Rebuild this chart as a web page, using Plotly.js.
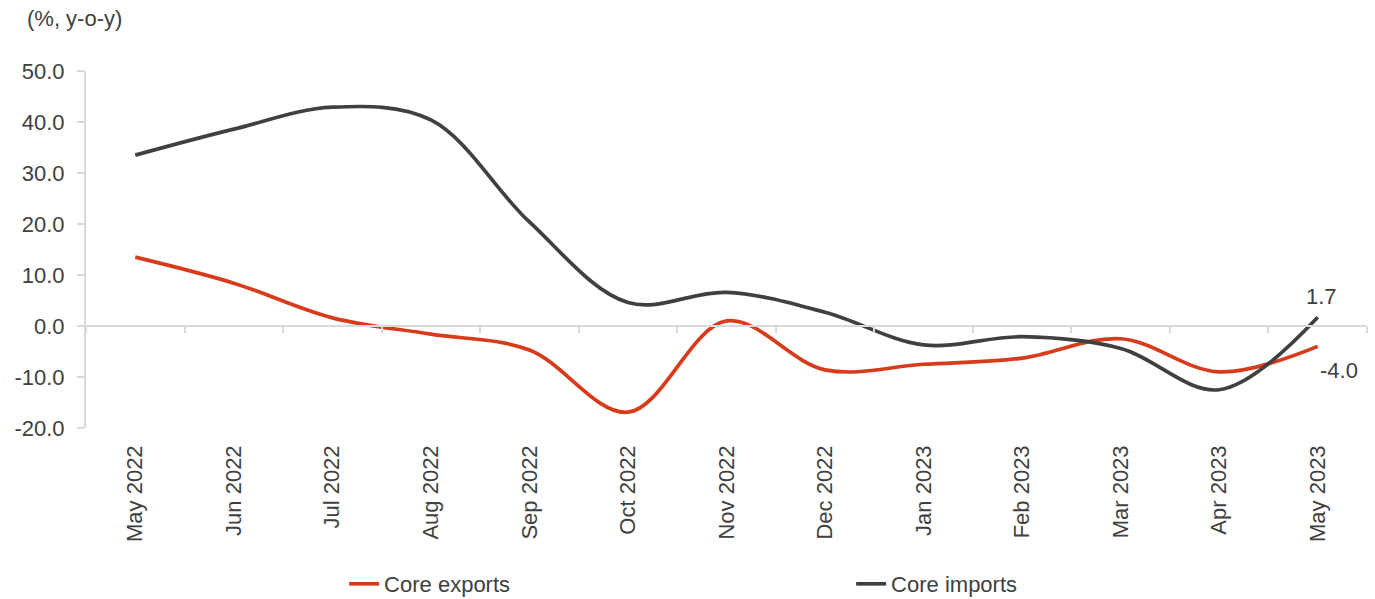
<!DOCTYPE html>
<html>
<head>
<meta charset="utf-8">
<script src="https://cdn.plot.ly/plotly-3.0.1.min.js"></script>
<style>html,body{margin:0;padding:0;background:#fff;}#chart{width:1375px;height:599px;}</style>
</head>
<body>
<div id="chart"></div>
<script>
const categories = ["May 2022","Jun 2022","Jul 2022","Aug 2022","Sep 2022","Oct 2022","Nov 2022","Dec 2022","Jan 2023","Feb 2023","Mar 2023","Apr 2023","May 2023"];
const coreExports = [13.5, 8.4, 1.6, -1.6, -4.7, -16.9, 1.0, -8.6, -7.5, -6.3, -2.5, -9.0, -4.0];
const coreImports = [33.5, 38.6, 42.9, 40.4, 20.4, 4.6, 6.6, 2.7, -3.7, -2.1, -4.4, -12.5, 1.7];
const yTicks = [-20, -10, 0, 10, 20, 30, 40, 50];
const seriesNames = ["Core exports", "Core imports"];
const lastIdx = categories.length - 1;

const fontFam = '"Liberation Sans", Arial, sans-serif';
const textColor = '#404040';
const gridGray = '#d9d9d9';
const fs = 22;

const traces = [
  {
    x: categories, y: coreExports, name: seriesNames[0], type: 'scatter', mode: 'lines',
    line: {color: '#d83b1a', width: 3.7, shape: 'spline', smoothing: 1},
    hoverinfo: 'x+y'
  },
  {
    x: categories, y: coreImports, name: seriesNames[1], type: 'scatter', mode: 'lines',
    line: {color: '#404040', width: 3.7, shape: 'spline', smoothing: 1},
    hoverinfo: 'x+y'
  },
  {
    x: categories, y: categories.map(() => null), xaxis: 'x2', yaxis: 'y',
    type: 'scatter', mode: 'lines', showlegend: false, hoverinfo: 'skip'
  }
];

const layout = {
  width: 1375, height: 599,
  margin: {l: 86, r: 8, t: 71, b: 171, autoexpand: false},
  paper_bgcolor: '#fff', plot_bgcolor: '#fff',
  font: {family: fontFam, color: textColor, size: fs},
  showlegend: true,
  legend: {
    orientation: 'h', x: 0.2015, xanchor: 'left', y: -0.437, yanchor: 'middle',
    font: {size: fs, color: textColor, family: fontFam},
    entrywidth: 462, entrywidthmode: 'pixels', bgcolor: 'rgba(0,0,0,0)'
  },
  xaxis: {
    type: 'category', categoryorder: 'array', categoryarray: categories,
    range: [-0.5, lastIdx + 0.5], automargin: false,
    showline: false, ticks: '', showgrid: false, zeroline: false,
    tickangle: -90, tickfont: {size: fs, color: textColor, family: fontFam},
    ticklabelstandoff: 12, fixedrange: true
  },
  xaxis2: {
    type: 'category', categoryorder: 'array', categoryarray: categories,
    range: [-0.5, lastIdx + 0.5], automargin: false,
    overlaying: 'x', anchor: 'free', position: 20 / 70, side: 'bottom',
    showline: true, linecolor: gridGray, linewidth: 2,
    ticks: 'outside', tickson: 'boundaries', ticklen: 6, tickcolor: gridGray, tickwidth: 2,
    showticklabels: false, showgrid: false, zeroline: false, fixedrange: true
  },
  yaxis: {
    range: [-20, 50], tickmode: 'array', tickvals: yTicks, automargin: false,
    ticktext: yTicks.map(v => v.toFixed(1)),
    showline: true, linecolor: gridGray, linewidth: 2,
    ticks: 'outside', ticklen: 7, tickcolor: gridGray, tickwidth: 2,
    showgrid: false, zeroline: false,
    tickfont: {size: fs, color: textColor, family: fontFam},
    ticklabelstandoff: 8, fixedrange: true
  },
  annotations: [
    {
      text: '(%, y-o-y)', xref: 'paper', yref: 'paper', x: -0.048, y: 1.148,
      xanchor: 'left', yanchor: 'middle', showarrow: false,
      font: {size: fs, color: textColor, family: fontFam}
    },
    {
      text: coreImports[lastIdx].toFixed(1), x: categories[lastIdx], y: coreImports[lastIdx],
      xref: 'x', yref: 'y', showarrow: false, xanchor: 'center', yanchor: 'bottom',
      xshift: 4, yshift: 6, font: {size: fs, color: textColor, family: fontFam}
    },
    {
      text: coreExports[lastIdx].toFixed(1), x: categories[lastIdx], y: coreExports[lastIdx],
      xref: 'x', yref: 'y', showarrow: false, xanchor: 'left', yanchor: 'top',
      xshift: 0, yshift: -10, font: {size: fs, color: textColor, family: fontFam}
    }
  ]
};

Plotly.newPlot('chart', traces, layout, {displayModeBar: false, staticPlot: true});
</script>
</body>
</html>
